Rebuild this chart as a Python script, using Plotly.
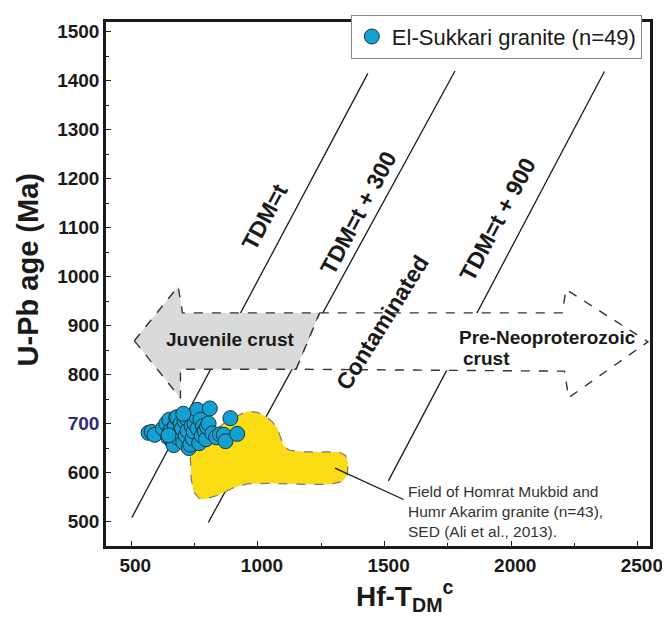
import plotly.graph_objects as go

# ---------------- data ----------------
# El-Sukkari granite zircons: Hf-TDM(c) vs U-Pb age
hf_tdm = [568, 580, 592, 625, 638, 645, 650, 654, 660, 667, 672, 677, 681, 685, 687,
          695, 700, 705, 710, 715, 720, 722, 727, 733, 738, 742, 746, 750, 755, 760,
          762, 768, 773, 778, 783, 790, 795, 799, 805, 810, 820, 835, 850, 865, 872,
          891, 918, 705, 647]
upb_age = [681, 683, 677, 690, 700, 672, 708, 685, 665, 656, 695, 712, 713, 680, 670,
           700, 690, 662, 705, 675, 709, 685, 650, 657, 695, 670, 684, 700, 715, 728,
           690, 660, 708, 675, 695, 685, 668, 693, 700, 731, 680, 672, 678, 677, 664,
           711, 679, 720, 676]

# reference lines (TDM = t, t+300, t+900)
line_names = ["TDM=t", "TDM=t + 300", "TDM=t + 900"]
line_x = [[502, 1434], [804, 1778], [1515, 2368]]
line_y = [[508, 1415], [498, 1420], [583, 1419]]

# field of Homrat Mukbid and Humr Akarim granite
field_x = [733, 736, 746, 766, 786, 839, 904, 957, 1049, 1181, 1287, 1333, 1353, 1355,
           1346, 1319, 1181, 1122, 1100, 1089, 1078, 1056, 1030, 997, 964, 938, 911,
           878, 839, 786, 746, 733]
field_y = [632, 588, 561, 548, 545, 553, 569, 577, 578, 576, 576, 582, 595, 622,
           635, 642, 642, 646, 656, 672, 689, 704, 715, 723, 725, 721, 713,
           706, 689, 662, 642, 632]

# juvenile crust arrow (pointing left)
juv_x = [512, 685, 702, 1244, 1151, 694, 694, 512]
juv_y = [869, 980, 926, 926, 811, 811, 752, 869]

# pre-Neoproterozoic crust arrow (pointing right)
pre_x = [1244, 2202, 2216, 2540, 2227, 2210, 1151, 1244]
pre_y = [926, 926, 974, 867, 753, 807, 811, 926]

# pointer to field label
pointer_x = [1304, 1575]
pointer_y = [609, 545]

x_ticks = [500, 1000, 1500, 2000, 2500]
y_ticks = [500, 600, 700, 800, 900, 1000, 1100, 1200, 1300, 1400, 1500]

FONT = "Arial, Liberation Sans, Helvetica, sans-serif"

fig = go.Figure()

for nm, lx, ly in zip(line_names, line_x, line_y):
    fig.add_trace(go.Scatter(x=lx, y=ly, mode="lines", name=nm, showlegend=False,
                             line=dict(color="#1a1a1a", width=1.3), hoverinfo="skip"))

fig.add_trace(go.Scatter(x=field_x, y=field_y, mode="lines", fill="toself",
                         fillcolor="#f9dc14", line=dict(color="#777777", width=1.2, dash="dash"),
                         showlegend=False, hoverinfo="skip"))

fig.add_trace(go.Scatter(x=pointer_x, y=pointer_y, mode="lines",
                         line=dict(color="#1a1a1a", width=1.3), showlegend=False, hoverinfo="skip"))

fig.add_trace(go.Scatter(x=juv_x, y=juv_y, mode="lines", fill="toself",
                         fillcolor="#d9dada", line=dict(color="#333333", width=1.4, dash="dash"),
                         showlegend=False, hoverinfo="skip"))

fig.add_trace(go.Scatter(x=pre_x, y=pre_y, mode="lines", fill="toself",
                         fillcolor="#ffffff", line=dict(color="#333333", width=1.4, dash="dash"),
                         showlegend=False, hoverinfo="skip"))

fig.add_trace(go.Scatter(x=hf_tdm, y=upb_age, mode="markers", name="El-Sukkari granite (n=49)",
                         marker=dict(size=15, color="#15a0d2",
                                     line=dict(color="#1b3440", width=1))))

ann = []
def add_text(text, x, y, size, angle=0, bold=True, color="#1a1a1a", **kw):
    ann.append(dict(text=text, x=x, y=y, xref="x", yref="y", showarrow=False,
                    textangle=angle, font=dict(family=FONT, size=size, color=color,
                                               weight="bold" if bold else "normal"), **kw))

add_text("TDM=t", 1026, 1122, 23, -62)
add_text("TDM=t + 300", 1395, 1131, 23, -62)
add_text("Contaminated", 1490, 905, 23, -58)
add_text("TDM=t + 900", 1948, 1117, 23, -62)
add_text("Juvenile crust", 889, 871, 19)
add_text("Pre-Neoproterozoic", 2142, 875, 19)
add_text("crust", 1800, 833, 19, xanchor="left")
add_text("Field of Homrat Mukbid and<br>Humr Akarim granite (n=43),<br>SED (Ali et al., 2013).",
         1585, 521, 15.5, bold=False, color="#333333", xanchor="left", align="left")

# axis titles
ann.append(dict(text="U-Pb age (Ma)", xref="paper", yref="paper", x=0, y=0.526,
                xshift=-78, showarrow=False, textangle=-90, xanchor="center", yanchor="middle",
                font=dict(family=FONT, size=29, color="#1a1a1a", weight="bold")))
ann.append(dict(text="Hf-T<sub>DM</sub><sup>c</sup>", xref="paper", yref="paper", x=0.548, y=0,
                yshift=-50, showarrow=False, xanchor="center", yanchor="middle",
                font=dict(family=FONT, size=28, color="#1a1a1a", weight="bold")))

y_text = [f'<span style="color:#2b2b7a">{v}</span>' if v == 700 else str(v) for v in y_ticks]

# the page body adds an 8px margin, so the figure is sized/margined to compensate
fig.update_layout(
    width=662, height=609,
    margin=dict(l=98, r=20, t=7, b=71),
    paper_bgcolor="white", plot_bgcolor="white",
    font=dict(family=FONT, color="#1a1a1a"),
    annotations=ann,
    showlegend=True,
    legend=dict(x=0.985, y=1.014, xanchor="right", yanchor="top",
                bgcolor="white", bordercolor="#8a8a8a", borderwidth=1,
                font=dict(family=FONT, size=22, color="#1a1a1a"),
                itemwidth=30, tracegroupgap=0),
    xaxis=dict(range=[400, 2548], tickvals=x_ticks, ticks="inside", ticklen=5, tickwidth=1.3,
               tickcolor="#1a1a1a", showline=True, linewidth=2.5, linecolor="#1a1a1a",
               mirror=True, showgrid=False, zeroline=False, ticklabelshift=4,
               tickfont=dict(family=FONT, size=19, color="#1a1a1a", weight="bold"),
               minor=dict(ticks="inside", dtick=250, tick0=500, ticklen=3, tickwidth=1,
                          tickcolor="#1a1a1a", showgrid=False)),
    yaxis=dict(range=[450, 1520], tickvals=y_ticks, ticktext=y_text, ticks="inside", ticklen=5,
               tickwidth=1.3, tickcolor="#1a1a1a", showline=True, linewidth=2.5,
               linecolor="#1a1a1a", mirror=True, showgrid=False, zeroline=False,
               tickfont=dict(family=FONT, size=19, color="#1a1a1a", weight="bold"),
               minor=dict(ticks="inside", dtick=50, tick0=500, ticklen=3, tickwidth=1,
                          tickcolor="#1a1a1a", showgrid=False)),
)

fig.write_html("out.html")
